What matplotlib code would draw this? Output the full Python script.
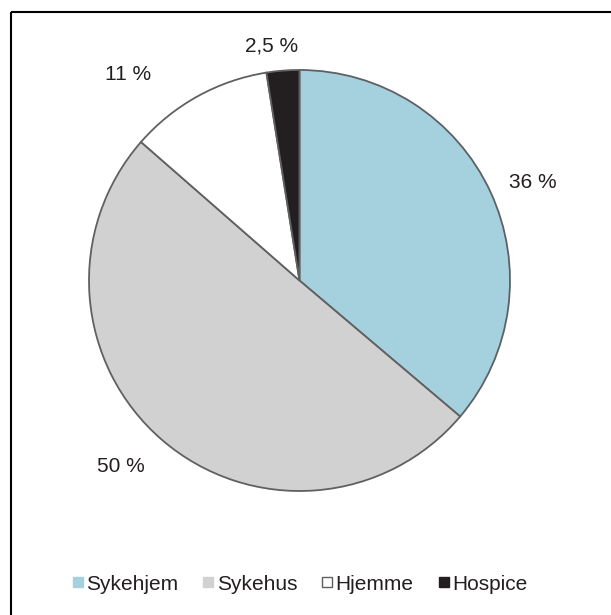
import numpy as np
import matplotlib.pyplot as plt
from matplotlib.lines import Line2D

plt.rcParams['font.family'] = ['Liberation Sans', 'DejaVu Sans']

# data
categories = ["Sykehjem", "Sykehus", "Hjemme", "Hospice"]
values = [36, 50, 11, 2.5]
labels = ["36 %", "50 %", "11 %", "2,5 %"]
colors = ["#a5d1de", "#d1d1d1", "#ffffff", "#231f20"]

# layout in pixel units
W, H = 611, 615
cx, cy, R = 299.5, 280.5, 210.5
label_pos = [(533, 183), (121, 467), (128, 75), (272, 46)]
FS = 15

fig = plt.figure(figsize=(W / 100, H / 100), dpi=100)
ax = fig.add_axes([0, 0, 1, 1])

# pie (y axis inverted below, so go counterclockwise in data to look clockwise)
ax.pie(values, colors=colors, startangle=-90, counterclock=True,
       center=(cx, cy), radius=R, frame=True,
       wedgeprops=dict(edgecolor="#5f6062", linewidth=1.3))
ax.set_xlim(0, W)
ax.set_ylim(H, 0)
ax.set_aspect("equal")
ax.axis("off")

for (x, y), t in zip(label_pos, labels):
    ax.text(x, y, t, ha="center", va="center", fontsize=FS, color="#231f20")

# frame: only top and left edges visible
ax.plot([11, W], [12, 12], color="black", linewidth=1.5, solid_capstyle="butt", clip_on=False)
ax.plot([11, 11], [12, H], color="black", linewidth=1.5, solid_capstyle="butt", clip_on=False)

handles = [Line2D([], [], marker="s", linestyle="none", markersize=7.2,
                  markerfacecolor=c, markeredgecolor="#606060" if c == "#ffffff" else c,
                  markeredgewidth=1.0)
           for c in colors]
ax.legend(handles, categories, loc="center", bbox_to_anchor=(300 / W, 1 - 584 / H),
          ncol=4, frameon=False, fontsize=FS, handletextpad=0.15,
          columnspacing=1.2, handlelength=0.5, labelcolor="#231f20",
          borderaxespad=0, borderpad=0)

fig.savefig("out.png", dpi=100)
